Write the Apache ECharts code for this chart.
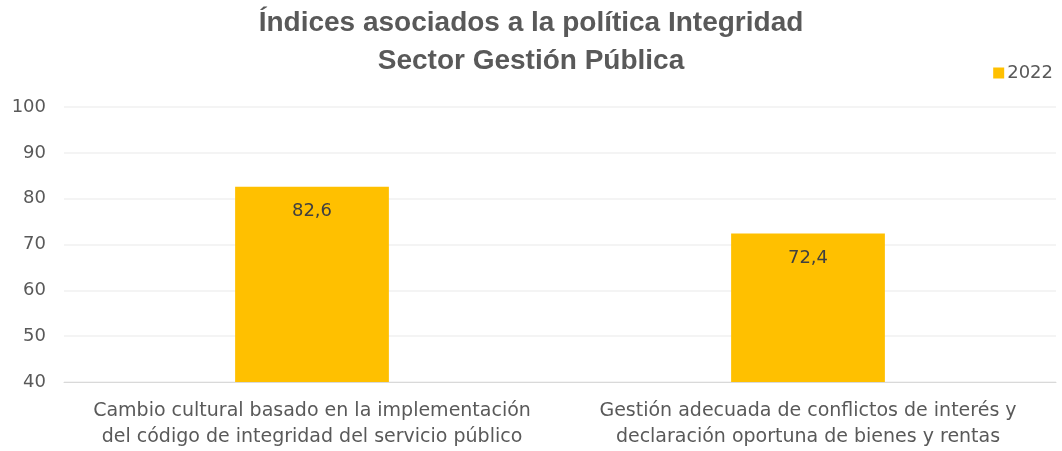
<!DOCTYPE html>
<html>
<head>
<meta charset="utf-8">
<script src="https://cdn.jsdelivr.net/npm/echarts@6/dist/echarts.min.js"></script>
<style>
	html, body { margin: 0; padding: 0; background: #fff; }
	#chart { width: 1062px; height: 451px; }
</style>
</head>
<body>
<div id="chart"></div>
<script>
var categories = [
	'Cambio cultural basado en la implementación\ndel código de integridad del servicio público',
	'Gestión adecuada de conflictos de interés y\ndeclaración oportuna de bienes y rentas'
];
var values2022 = [82.6, 72.4];
var yTicks = [40, 100, 10]; // min, max, interval

var myChart = echarts.init(document.getElementById('chart'));

var option = {
	backgroundColor: '#ffffff',
	textStyle: {
		fontFamily: 'DejaVu Sans',
		color: '#595959'
	},
	title: {
		text: 'Índices asociados a la política Integridad\nSector Gestión Pública',
		left: 'center',
		top: 4,
		padding: 0,
		textStyle: {
			fontFamily: 'Liberation Sans',
			fontWeight: 'bold',
			fontSize: 28,
			lineHeight: 38,
			color: '#595959'
		}
	},
	legend: {
		right: 4,
		top: 59,
		itemWidth: 11,
		itemHeight: 11,
		itemGap: 4,
		icon: 'rect',
		textStyle: {
			fontSize: 18,
			color: '#595959',
			padding: [0, 0, 0, -2]
		},
		data: ['2022']
	},
	grid: {
		left: 64,
		right: 6,
		top: 107,
		bottom: 69,
		containLabel: false
	},
	xAxis: {
		type: 'category',
		data: categories,
		axisLine: { lineStyle: { color: '#d9d9d9', width: 1 } },
		axisTick: { show: false },
		axisLabel: {
			fontSize: 19,
			lineHeight: 26,
			color: '#595959',
			margin: 16,
			interval: 0
		}
	},
	yAxis: {
		type: 'value',
		min: yTicks[0],
		max: yTicks[1],
		interval: yTicks[2],
		axisLine: { show: false },
		axisTick: { show: false },
		splitLine: { lineStyle: { color: '#f0f0f0', width: 1.5 } },
		axisLabel: {
			fontSize: 18,
			color: '#595959',
			margin: 18
		}
	},
	series: [{
		name: '2022',
		type: 'bar',
		data: values2022,
		barWidth: '31%',
		itemStyle: { color: '#FFC000' },
		label: {
			show: true,
			position: 'insideTop',
			distance: 16,
			fontSize: 18,
			color: '#404040',
			formatter: function(p) {
				return p.value.toFixed(1).replace('.', ',');
			}
		}
	}]
};

myChart.setOption(option);
</script>
</body>
</html>
